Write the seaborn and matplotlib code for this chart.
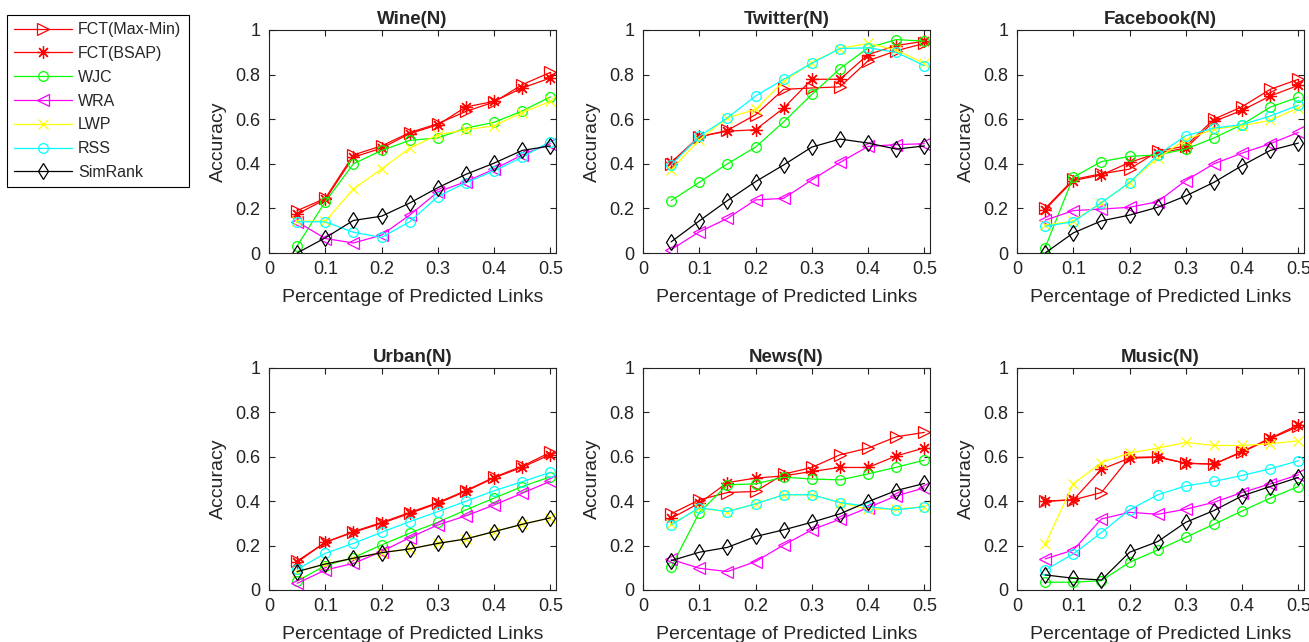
import matplotlib
matplotlib.use("Agg")
import matplotlib.pyplot as plt
import pandas as pd
import seaborn as sns

x_pct = [0.05, 0.1, 0.15, 0.2, 0.25, 0.3, 0.35, 0.4, 0.45, 0.5]
methods = ["FCT(Max-Min)", "FCT(BSAP)", "WJC", "WRA", "LWP", "RSS", "SimRank"]
datasets = ["Wine(N)", "Twitter(N)", "Facebook(N)", "Urban(N)", "News(N)", "Music(N)"]

wine = {
    "FCT(Max-Min)": [0.19, 0.245, 0.44, 0.48, 0.54, 0.58, 0.635, 0.677, 0.755, 0.81],
    "FCT(BSAP)":    [0.175, 0.24, 0.43, 0.47, 0.535, 0.575, 0.655, 0.68, 0.74, 0.785],
    "WJC":          [0.032, 0.23, 0.40, 0.46, 0.505, 0.516, 0.56, 0.586, 0.637, 0.70],
    "WRA":          [0.14, 0.065, 0.045, 0.08, 0.17, 0.274, 0.32, 0.376, 0.44, 0.49],
    "LWP":          [0.143, 0.143, 0.287, 0.377, 0.47, 0.53, 0.553, 0.57, 0.63, 0.68],
    "RSS":          [0.14, 0.14, 0.093, 0.07, 0.14, 0.253, 0.316, 0.368, 0.43, 0.50],
    "SimRank":      [0.0, 0.068, 0.146, 0.165, 0.224, 0.293, 0.353, 0.403, 0.46, 0.48],
}
twitter = {
    "FCT(Max-Min)": [0.40, 0.52, 0.55, 0.62, 0.734, 0.74, 0.745, 0.862, 0.907, 0.94],
    "FCT(BSAP)":    [0.406, 0.523, 0.546, 0.553, 0.65, 0.779, 0.779, 0.89, 0.93, 0.95],
    "WJC":          [0.235, 0.317, 0.40, 0.475, 0.588, 0.711, 0.827, 0.92, 0.957, 0.95],
    "WRA":          [0.015, 0.095, 0.155, 0.238, 0.245, 0.328, 0.406, 0.478, 0.486, 0.49],
    "LWP":          [0.373, 0.508, 0.606, 0.644, 0.77, 0.854, 0.917, 0.94, 0.91, 0.85],
    "RSS":          [0.395, 0.523, 0.606, 0.704, 0.779, 0.851, 0.917, 0.92, 0.90, 0.84],
    "SimRank":      [0.05, 0.144, 0.235, 0.32, 0.395, 0.475, 0.511, 0.493, 0.466, 0.48],
}
facebook = {
    "FCT(Max-Min)": [0.20, 0.33, 0.355, 0.376, 0.456, 0.48, 0.60, 0.656, 0.734, 0.779],
    "FCT(BSAP)":    [0.195, 0.325, 0.35, 0.406, 0.448, 0.47, 0.59, 0.64, 0.704, 0.752],
    "WJC":          [0.024, 0.34, 0.41, 0.433, 0.44, 0.466, 0.516, 0.576, 0.654, 0.699],
    "WRA":          [0.147, 0.19, 0.197, 0.205, 0.23, 0.325, 0.40, 0.448, 0.49, 0.541],
    "LWP":          [0.125, 0.143, 0.226, 0.316, 0.426, 0.508, 0.556, 0.571, 0.595, 0.651],
    "RSS":          [0.12, 0.14, 0.226, 0.316, 0.44, 0.526, 0.56, 0.576, 0.614, 0.663],
    "SimRank":      [0.0, 0.09, 0.144, 0.17, 0.205, 0.256, 0.317, 0.392, 0.46, 0.493],
}
urban = {
    "FCT(Max-Min)": [0.13, 0.215, 0.263, 0.304, 0.349, 0.394, 0.448, 0.508, 0.558, 0.62],
    "FCT(BSAP)":    [0.125, 0.215, 0.26, 0.30, 0.345, 0.39, 0.445, 0.505, 0.553, 0.61],
    "WJC":          [0.04, 0.11, 0.146, 0.203, 0.256, 0.305, 0.361, 0.414, 0.466, 0.51],
    "WRA":          [0.03, 0.09, 0.12, 0.173, 0.236, 0.293, 0.334, 0.383, 0.436, 0.49],
    "LWP":          [0.083, 0.117, 0.143, 0.168, 0.185, 0.21, 0.23, 0.263, 0.296, 0.325],
    "RSS":          [0.093, 0.165, 0.21, 0.26, 0.308, 0.353, 0.40, 0.447, 0.488, 0.53],
    "SimRank":      [0.083, 0.117, 0.143, 0.168, 0.185, 0.21, 0.23, 0.263, 0.296, 0.325],
}
news = {
    "FCT(Max-Min)": [0.343, 0.406, 0.439, 0.444, 0.522, 0.552, 0.609, 0.639, 0.69, 0.71],
    "FCT(BSAP)":    [0.323, 0.391, 0.484, 0.504, 0.514, 0.534, 0.552, 0.552, 0.604, 0.64],
    "WJC":          [0.102, 0.349, 0.474, 0.478, 0.508, 0.50, 0.496, 0.523, 0.553, 0.585],
    "WRA":          [0.138, 0.098, 0.083, 0.128, 0.203, 0.271, 0.319, 0.371, 0.424, 0.46],
    "LWP":          [0.296, 0.368, 0.353, 0.388, 0.429, 0.429, 0.394, 0.364, 0.365, 0.375],
    "RSS":          [0.293, 0.371, 0.353, 0.388, 0.429, 0.429, 0.394, 0.376, 0.361, 0.375],
    "SimRank":      [0.132, 0.17, 0.192, 0.241, 0.271, 0.305, 0.343, 0.398, 0.448, 0.48],
}
music = {
    "FCT(Max-Min)": [0.40, 0.406, 0.439, 0.597, 0.60, 0.571, 0.567, 0.621, 0.681, 0.737],
    "FCT(BSAP)":    [0.40, 0.406, 0.544, 0.594, 0.598, 0.571, 0.567, 0.624, 0.684, 0.744],
    "WJC":          [0.035, 0.035, 0.042, 0.125, 0.18, 0.238, 0.296, 0.356, 0.414, 0.466],
    "WRA":          [0.14, 0.18, 0.32, 0.35, 0.341, 0.364, 0.395, 0.439, 0.478, 0.519],
    "LWP":          [0.206, 0.478, 0.574, 0.617, 0.639, 0.665, 0.651, 0.651, 0.659, 0.672],
    "RSS":          [0.09, 0.162, 0.259, 0.361, 0.429, 0.469, 0.489, 0.516, 0.546, 0.582],
    "SimRank":      [0.068, 0.053, 0.045, 0.17, 0.218, 0.305, 0.358, 0.424, 0.466, 0.507],
}
all_data = [wine, twitter, facebook, urban, news, music]

colors = {"FCT(Max-Min)": "#ff0000", "FCT(BSAP)": "#ff0000", "WJC": "#00ff00",
          "WRA": "#ff00ff", "LWP": "#ffff00", "RSS": "#00ffff", "SimRank": "#000000"}
markers = {"FCT(Max-Min)": ">", "FCT(BSAP)": (8, 2, 0), "WJC": "o", "WRA": "<",
           "LWP": "x", "RSS": "o", "SimRank": "d"}
msizes = {"FCT(Max-Min)": 8, "FCT(BSAP)": 9, "WJC": 7, "WRA": 8,
          "LWP": 7, "RSS": 7, "SimRank": 8}

sns.set_theme(style="ticks")
plt.rcParams["font.family"] = ["Liberation Sans", "DejaVu Sans"]
plt.rcParams["xtick.direction"] = "in"
plt.rcParams["ytick.direction"] = "in"

W, H = 1309, 642
fig = plt.figure(figsize=(W / 100, H / 100), dpi=100)

lefts = [269, 643, 1017]
rows = [(30, 253), (368, 590)]
axw = 287

for i, (name, d) in enumerate(zip(datasets, all_data)):
    r, c = divmod(i, 3)
    top, bot = rows[r]
    ax = fig.add_axes([lefts[c] / W, (H - bot) / H, axw / W, (bot - top) / H])
    df = pd.DataFrame({"x": x_pct, **d})
    for m in methods:
        sns.lineplot(data=df, x="x", y=m, ax=ax, color=colors[m], marker=markers[m],
                     markersize=msizes[m], markerfacecolor="none",
                     markeredgecolor=colors[m], markeredgewidth=0.9,
                     linewidth=0.9, label=m, legend=False, estimator=None)
    ax.set_xlim(0, 0.51)
    ax.set_ylim(0, 1)
    ax.set_xticks([0, 0.1, 0.2, 0.3, 0.4, 0.5])
    ax.set_xticklabels(["0", "0.1", "0.2", "0.3", "0.4", "0.5"])
    ax.set_yticks([0, 0.2, 0.4, 0.6, 0.8, 1])
    ax.set_yticklabels(["0", "0.2", "0.4", "0.6", "0.8", "1"])
    ax.tick_params(axis="both", labelsize=13, length=4, width=0.8, colors="#222222",
                   top=True, right=True, pad=6)
    for sp in ax.spines.values():
        sp.set_visible(True)
        sp.set_linewidth(0.8)
        sp.set_color("#222222")
    ax.set_xlabel("Percentage of Predicted Links", fontsize=14, labelpad=8)
    ax.set_ylabel("Accuracy", fontsize=14, labelpad=6)
    ax.set_title(name, fontsize=13.5, fontweight="bold", pad=4)
    if i == 0:
        handles, labels = ax.get_legend_handles_labels()

leg = fig.legend(handles, labels, loc="upper left", bbox_to_anchor=(7 / W, 1 - 15 / H),
                 borderaxespad=0, fontsize=11.5, frameon=True, fancybox=False,
                 edgecolor="black", framealpha=1, handlelength=3.6, labelspacing=0.55,
                 borderpad=0.45, handletextpad=0.4)
leg.get_frame().set_linewidth(0.8)

fig.savefig("out.png", dpi=100)
